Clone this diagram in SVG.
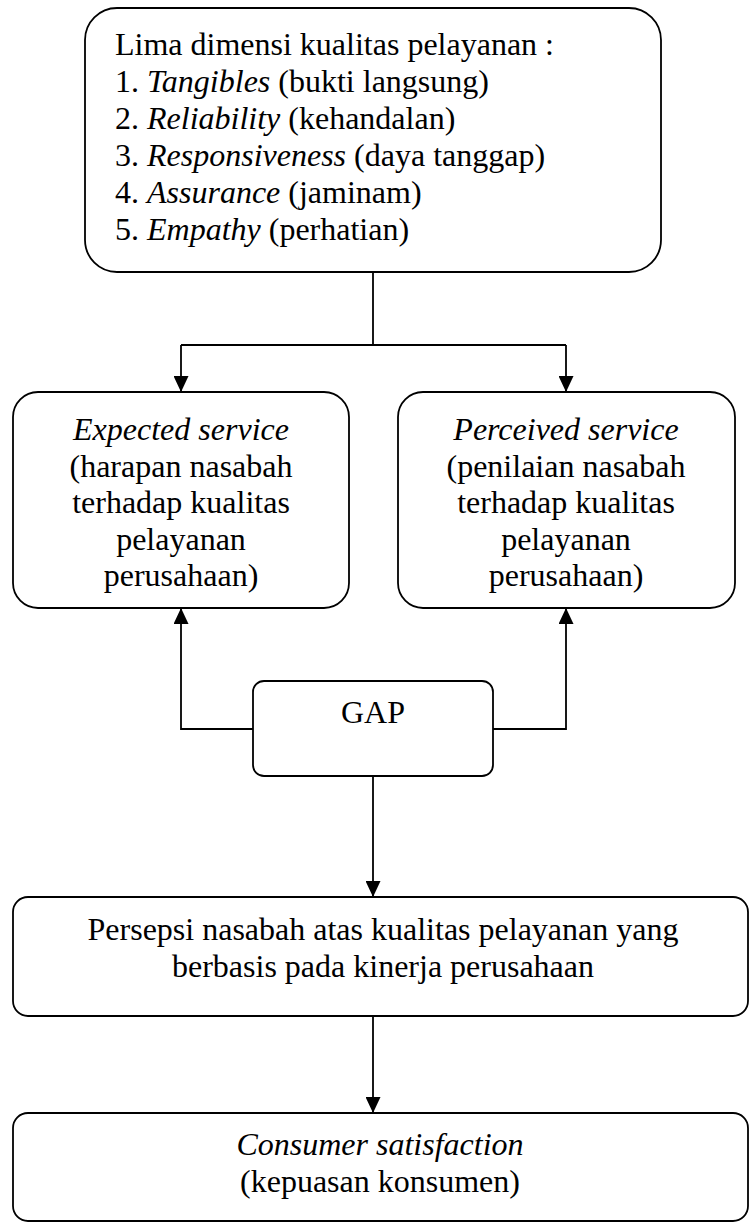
<svg xmlns="http://www.w3.org/2000/svg" width="750" height="1228" viewBox="0 0 750 1228">
<style>
.box{fill:#fff;stroke:#000;stroke-width:1.8}
.con{fill:none;stroke:#000;stroke-width:1.8}
text{font-family:"Liberation Serif","Times New Roman",serif;font-size:32px;fill:#000}
.c{text-anchor:middle}
.i{font-style:italic}
</style>
<defs>
<marker id="arr" markerUnits="userSpaceOnUse" markerWidth="17" markerHeight="15" refX="16" refY="7.5" orient="auto">
<path d="M0,0 L16,7.5 L0,15 Z" fill="#000"/>
</marker>
</defs>
<g id="connectors">
<path class="con" d="M373,272 V345"/>
<path class="con" d="M181,345 H566"/>
<path class="con" d="M181,345 V392" marker-end="url(#arr)"/>
<path class="con" d="M566,345 V392" marker-end="url(#arr)"/>
<path class="con" d="M253,729 H181 V608" marker-end="url(#arr)"/>
<path class="con" d="M493,729 H566 V608" marker-end="url(#arr)"/>
<path class="con" d="M373,776 V897" marker-end="url(#arr)"/>
<path class="con" d="M373,1016 V1113" marker-end="url(#arr)"/>
</g>
<g id="dimensions">
<rect class="box" x="85" y="8" width="576" height="264" rx="32"/>
<text x="115" y="55">Lima dimensi kualitas pelayanan :</text>
<text x="115" y="92">1. <tspan class="i">Tangibles</tspan> (bukti langsung)</text>
<text x="115" y="129">2. <tspan class="i">Reliability</tspan> (kehandalan)</text>
<text x="115" y="166">3. <tspan class="i">Responsiveness</tspan> (daya tanggap)</text>
<text x="115" y="203">4. <tspan class="i">Assurance</tspan> (jaminam)</text>
<text x="115" y="240">5. <tspan class="i">Empathy</tspan> (perhatian)</text>
</g>
<g id="expected">
<rect class="box" x="13" y="392" width="336" height="216" rx="25"/>
<text class="c i" x="181" y="440">Expected service</text>
<text class="c" x="181" y="476.5">(harapan nasabah</text>
<text class="c" x="181" y="513">terhadap kualitas</text>
<text class="c" x="181" y="549.5">pelayanan</text>
<text class="c" x="181" y="586">perusahaan)</text>
</g>
<g id="perceived">
<rect class="box" x="398" y="392" width="337" height="216" rx="25"/>
<text class="c i" x="566" y="440">Perceived service</text>
<text class="c" x="566" y="476.5">(penilaian nasabah</text>
<text class="c" x="566" y="513">terhadap kualitas</text>
<text class="c" x="566" y="549.5">pelayanan</text>
<text class="c" x="566" y="586">perusahaan)</text>
</g>
<g id="gap">
<rect class="box" x="253" y="681" width="240" height="95" rx="11"/>
<text class="c" x="373" y="723">GAP</text>
</g>
<g id="persepsi">
<rect class="box" x="13" y="897" width="735" height="119" rx="15"/>
<text class="c" x="383" y="940">Persepsi nasabah atas kualitas pelayanan yang</text>
<text class="c" x="383" y="977">berbasis pada kinerja perusahaan</text>
</g>
<g id="consumer">
<rect class="box" x="13" y="1113" width="735" height="108" rx="15"/>
<text class="c i" x="380" y="1155">Consumer satisfaction</text>
<text class="c" x="380" y="1192">(kepuasan konsumen)</text>
</g>
</svg>
